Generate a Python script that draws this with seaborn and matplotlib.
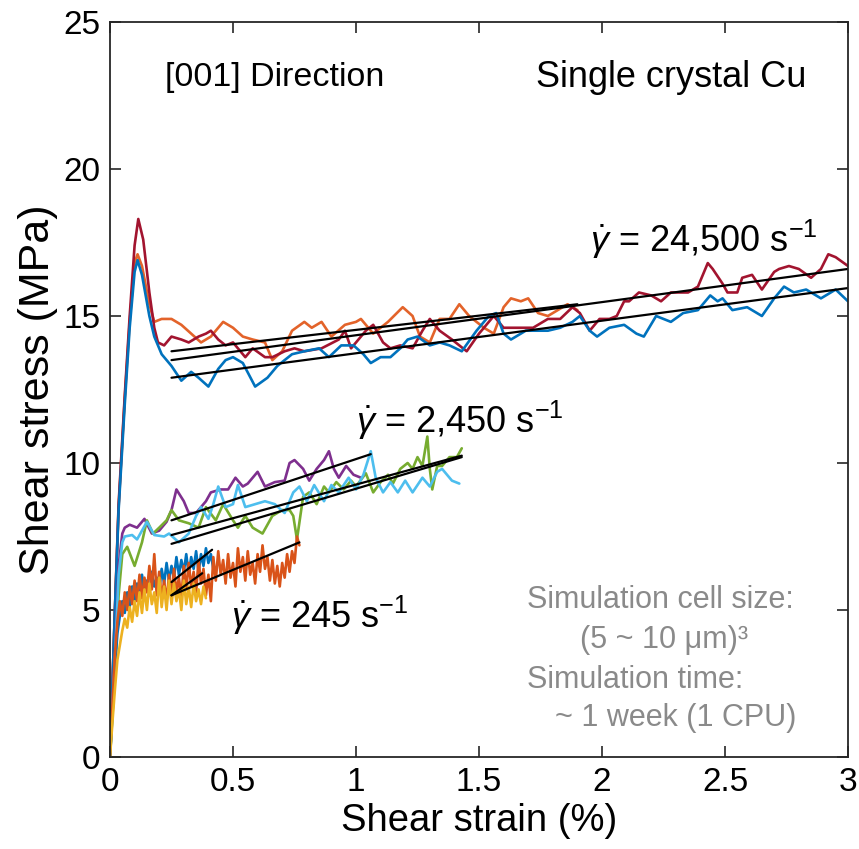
import matplotlib
matplotlib.use("Agg")
import matplotlib.pyplot as plt
from matplotlib import font_manager
import seaborn as sns
import pandas as pd

# ---------------- data ----------------
# 24,500 1/s  (three runs)
r24_x = [0, 0.02, 0.035, 0.06, 0.08, 0.10, 0.115, 0.135, 0.16, 0.18, 0.195, 0.22, 0.25, 0.29, 0.32, 0.36, 0.39, 0.41,
         0.44, 0.47, 0.50, 0.55, 0.58, 0.63, 0.66, 0.71, 0.75, 0.79, 0.86, 0.93, 0.955, 0.98, 1.01, 1.04, 1.07,
         1.11, 1.14, 1.18, 1.23, 1.27, 1.30, 1.34, 1.39, 1.42, 1.45, 1.50, 1.56, 1.60, 1.65, 1.72, 1.78, 1.83,
         1.88, 1.91, 1.95, 1.99, 2.03, 2.06, 2.09, 2.11, 2.15, 2.20, 2.24, 2.28, 2.35, 2.39, 2.43, 2.45, 2.49,
         2.51, 2.55, 2.57, 2.61, 2.65, 2.70, 2.72, 2.76, 2.80, 2.85, 2.89, 2.92, 2.95, 3.0]
r24_y = [0, 5.0, 8.6, 12.3, 15.0, 17.4, 18.3, 17.6, 15.8, 14.6, 14.1, 14.0, 14.3, 14.2, 14.1, 14.3, 14.4, 14.5,
         14.2, 14.0, 14.1, 13.6, 13.9, 13.6, 13.6, 13.8, 13.9, 13.8, 13.9, 14.2, 14.5, 13.9, 14.2, 14.5, 14.7,
         14.1, 13.9, 14.0, 13.9, 14.5, 14.9, 14.5, 14.2, 14.0, 13.8, 14.4, 15.0, 14.6, 14.6, 14.6, 14.9, 14.9,
         15.3, 15.1, 14.5, 14.9, 14.9, 15.0, 15.5, 15.5, 15.8, 15.7, 15.5, 15.8, 15.8, 16.0, 16.8, 16.6, 16.1,
         15.8, 15.8, 16.3, 16.4, 15.9, 16.5, 16.6, 16.7, 16.6, 16.3, 16.6, 17.1, 17.0, 16.7]

b24_x = [0, 0.02, 0.035, 0.06, 0.08, 0.10, 0.112, 0.13, 0.16, 0.18, 0.21, 0.25, 0.29, 0.33, 0.36, 0.40, 0.44,
         0.47, 0.50, 0.54, 0.59, 0.64, 0.68, 0.74, 0.79, 0.85, 0.89, 0.94, 0.99, 1.03, 1.06, 1.10, 1.14, 1.18,
         1.21, 1.25, 1.30, 1.34, 1.38, 1.43, 1.49, 1.54, 1.57, 1.60, 1.63, 1.69, 1.78, 1.83, 1.88, 1.91, 1.95,
         1.98, 2.03, 2.09, 2.14, 2.17, 2.22, 2.28, 2.33, 2.39, 2.44, 2.47, 2.49, 2.53, 2.59, 2.65, 2.70, 2.74,
         2.78, 2.83, 2.89, 2.95, 3.0]
b24_y = [0, 5.0, 8.4, 12.0, 14.6, 16.5, 16.9, 16.4, 15.0, 14.3, 13.7, 13.3, 12.8, 13.1, 12.9, 12.6, 13.2,
         13.5, 13.6, 13.4, 12.6, 12.9, 13.3, 13.7, 13.8, 13.9, 13.6, 14.0, 14.0, 13.7, 13.4, 13.6, 13.6, 13.9,
         14.2, 14.3, 14.0, 14.1, 14.0, 13.8, 14.5, 15.0, 15.1, 14.4, 14.2, 14.5, 14.5, 14.6, 14.8, 15.0, 14.5,
         14.3, 14.6, 14.7, 14.4, 14.3, 15.0, 14.8, 15.1, 15.2, 15.7, 15.5, 15.6, 15.2, 15.3, 15.0, 15.6, 16.0,
         15.8, 15.9, 15.6, 15.9, 15.5]

o24_x = [0, 0.02, 0.035, 0.06, 0.08, 0.10, 0.112, 0.13, 0.16, 0.18, 0.21, 0.25, 0.29, 0.33, 0.37, 0.41, 0.46,
         0.50, 0.54, 0.58, 0.63, 0.66, 0.70, 0.74, 0.79, 0.82, 0.86, 0.90, 0.955, 1.0, 1.02, 1.07, 1.13, 1.19,
         1.23, 1.26, 1.30, 1.34, 1.38, 1.42, 1.46, 1.52, 1.56, 1.60, 1.63, 1.67, 1.70, 1.74, 1.78, 1.82, 1.86,
         1.90]
o24_y = [0, 5.0, 8.5, 12.2, 14.8, 16.8, 17.1, 16.7, 15.4, 14.8, 14.9, 14.9, 14.7, 14.4, 14.1, 14.3, 14.8,
         14.6, 14.3, 14.2, 14.1, 13.5, 13.8, 14.5, 14.8, 14.6, 14.8, 14.3, 14.7, 14.8, 14.9, 14.4, 14.8, 15.3,
         15.0, 14.3, 14.1, 14.9, 14.9, 15.4, 15.0, 14.6, 14.4, 15.3, 15.6, 15.5, 15.6, 15.1, 15.0, 15.2, 15.4,
         15.2]

# 2,450 1/s
p2_x = [0, 0.02, 0.035, 0.05, 0.06, 0.08, 0.11, 0.14, 0.17, 0.20, 0.23, 0.25, 0.27, 0.30, 0.32, 0.35, 0.39,
        0.41, 0.45, 0.48, 0.51, 0.54, 0.56, 0.60, 0.63, 0.67, 0.71, 0.73, 0.75, 0.785, 0.81, 0.84, 0.87, 0.89,
        0.91, 0.93, 0.96, 0.99, 1.02]
p2_y = [0, 3.5, 6.5, 7.6, 7.8, 7.9, 7.8, 8.1, 7.6, 7.7, 8.0, 8.4, 9.1, 8.7, 8.3, 8.3, 8.7,
        9.0, 9.1, 9.1, 9.5, 9.2, 9.3, 9.7, 9.2, 9.35, 9.4, 10.0, 10.1, 9.8, 9.4, 9.8, 10.1, 10.4,
        9.8, 9.5, 9.9, 9.6, 9.5]

c2_x = [0, 0.02, 0.035, 0.05, 0.06, 0.09, 0.11, 0.13, 0.15, 0.18, 0.22, 0.24, 0.28, 0.32, 0.35, 0.37, 0.40,
        0.42, 0.44, 0.47, 0.50, 0.52, 0.55, 0.59, 0.63, 0.67, 0.71, 0.745, 0.77, 0.80, 0.83, 0.87, 0.90, 0.93,
        0.97, 1.0, 1.03, 1.06, 1.08, 1.11, 1.14, 1.17, 1.20, 1.23, 1.27, 1.30, 1.33, 1.35, 1.37, 1.39, 1.42]
c2_y = [0, 3.3, 6.2, 7.3, 7.5, 7.55, 7.4, 7.7, 8.0, 7.55, 7.5, 7.6, 7.3, 7.6, 8.2, 8.5, 8.1,
        8.6, 9.2, 8.5, 8.6, 9.25, 8.5, 8.6, 8.7, 8.6, 8.3, 9.0, 9.2, 8.7, 9.25, 8.7, 9.25, 9.0,
        9.5, 9.1, 9.6, 10.4, 9.5, 9.0, 9.35, 9.0, 9.4, 9.0, 9.5, 9.2, 9.7, 9.8, 9.6, 9.4, 9.3]

g2_x = [0, 0.02, 0.035, 0.05, 0.07, 0.10, 0.13, 0.15, 0.175, 0.20, 0.23, 0.25, 0.28, 0.32, 0.36, 0.39, 0.43,
        0.46, 0.50, 0.52, 0.55, 0.58, 0.62, 0.66, 0.70, 0.73, 0.745, 0.76, 0.785, 0.81, 0.84, 0.87, 0.89, 0.92,
        0.95, 0.98, 1.0, 1.04, 1.07, 1.10, 1.13, 1.15, 1.18, 1.21, 1.23, 1.25, 1.27, 1.29, 1.30, 1.31, 1.33,
        1.35, 1.38, 1.41, 1.43]
g2_y = [0, 2.8, 5.5, 6.9, 7.15, 6.5, 7.3, 8.05, 7.6, 7.8, 8.05, 8.4, 8.05, 7.95, 7.8, 8.5, 8.05,
        8.6, 8.05, 7.8, 8.2, 7.8, 7.6, 8.2, 8.4, 8.4, 8.2, 7.4, 8.85, 9.0, 8.6, 9.2, 9.0, 9.35,
        9.1, 9.4, 9.2, 9.65, 9.0, 9.35, 9.6, 9.3, 9.8, 10.0, 9.8, 10.2, 9.9, 10.9, 9.8, 9.1, 9.9,
        9.9, 10.2, 10.2, 10.5]

# 245 1/s
b2_x = [0.00, 0.01, 0.02, 0.03, 0.04, 0.05, 0.06, 0.07, 0.08, 0.09, 0.10, 0.11, 0.12, 0.13, 0.14, 0.15, 0.16,
        0.17, 0.18, 0.19, 0.20, 0.21, 0.22, 0.23, 0.24, 0.25, 0.26, 0.27, 0.28, 0.29, 0.30, 0.31, 0.32, 0.33,
        0.34, 0.35, 0.36, 0.37, 0.38, 0.39, 0.40, 0.41, 0.42]
b2_y = [0, 1.5, 3.0, 4.2, 4.8, 5.3, 4.9, 5.6, 5.1, 5.8, 5.3, 5.9, 5.4, 6.2, 5.6, 6.0, 5.5,
        6.3, 5.8, 6.1, 5.7, 6.4, 5.9, 6.6, 6.0, 6.5, 6.1, 6.8, 6.2, 6.7, 6.3, 6.9, 6.2, 6.8,
        6.4, 7.0, 6.3, 6.9, 6.5, 7.1, 6.6, 6.9, 6.4]

o2_x = [0.00, 0.01, 0.02, 0.03, 0.04, 0.05, 0.06, 0.07, 0.08, 0.09, 0.10, 0.11, 0.12, 0.13, 0.14, 0.15, 0.16,
        0.17, 0.18, 0.19, 0.20, 0.21, 0.22, 0.23, 0.24, 0.25, 0.26, 0.27, 0.28, 0.29, 0.30, 0.31, 0.32, 0.33,
        0.34, 0.35, 0.36, 0.37, 0.38, 0.39, 0.40, 0.41, 0.42, 0.43, 0.44, 0.45, 0.46, 0.47, 0.48, 0.49, 0.50,
        0.51, 0.52, 0.53, 0.54, 0.55, 0.56, 0.57, 0.58, 0.59, 0.60, 0.61, 0.62, 0.63, 0.64, 0.65, 0.66, 0.67,
        0.68, 0.69, 0.70, 0.71, 0.72, 0.73, 0.74, 0.75, 0.76, 0.77]
o2_y = [0, 1.8, 3.5, 4.6, 5.3, 4.8, 5.6, 5.0, 5.8, 5.2, 6.0, 5.3, 6.2, 5.4, 6.1, 5.6, 6.5,
        5.7, 6.9, 5.5, 6.3, 5.4, 6.0, 5.3, 6.2, 5.5, 6.4, 5.6, 6.1, 5.4, 6.5, 5.7, 6.6, 5.8,
        6.3, 5.6, 6.7, 5.9, 6.4, 5.5, 6.2, 5.3, 6.8, 6.0, 7.0, 6.2, 6.7, 5.9, 6.9, 6.1, 6.6,
        5.8, 7.1, 6.3, 6.8, 6.0, 7.0, 6.2, 6.6, 5.9, 6.9, 6.3, 7.2, 6.4, 6.8, 6.0, 6.7, 5.9,
        6.5, 5.8, 6.6, 6.1, 6.9, 6.3, 7.0, 6.6, 7.5, 7.2]

y2_x = [0.00, 0.01, 0.02, 0.03, 0.04, 0.05, 0.06, 0.07, 0.08, 0.09, 0.10, 0.11, 0.12, 0.13, 0.14, 0.15, 0.16,
        0.17, 0.18, 0.19, 0.20, 0.21, 0.22, 0.23, 0.24, 0.25, 0.26, 0.27, 0.28, 0.29, 0.30, 0.31, 0.32, 0.33,
        0.34, 0.35, 0.36, 0.37, 0.38, 0.39]
y2_y = [0, 1.2, 2.3, 3.3, 3.8, 4.3, 4.7, 4.4, 5.1, 4.6, 5.3, 4.8, 5.6, 4.9, 5.7, 5.0, 5.9,
        5.2, 5.6, 4.9, 6.1, 5.1, 5.8, 5.0, 6.0, 5.2, 5.9, 5.3, 5.7, 5.0, 6.0, 5.2, 5.8, 5.1,
        5.9, 5.3, 5.7, 5.2, 5.8, 5.4]

# linear fits (start / end points)
fit_x = [[0.25, 1.90], [0.25, 3.0], [0.25, 3.0],
         [0.25, 1.06], [0.25, 1.43], [0.25, 1.43],
         [0.25, 0.415], [0.25, 0.375], [0.25, 0.77]]
fit_y = [[13.8, 15.4], [13.5, 16.6], [12.9, 15.95],
         [8.05, 10.3], [7.55, 10.25], [7.25, 10.2],
         [5.95, 7.05], [5.5, 6.25], [5.5, 7.3]]

x_ticks = [0, 0.5, 1, 1.5, 2, 2.5, 3]
x_tick_labels = ["0", "0.5", "1", "1.5", "2", "2.5", "3"]
y_ticks = [0, 5, 10, 15, 20, 25]
y_tick_labels = ["0", "5", "10", "15", "20", "25"]

# ---------------- style ----------------
sns.set_theme(style="ticks")
names = {f.name for f in font_manager.fontManager.ttflist}
base = "Liberation Sans"
narrow = "Liberation Sans Narrow" if "Liberation Sans Narrow" in names else None
plt.rcParams["font.family"] = [base, "DejaVu Sans"]
plt.rcParams["text.color"] = "black"
plt.rcParams["axes.labelcolor"] = "black"
plt.rcParams["mathtext.fontset"] = "custom"
plt.rcParams["mathtext.rm"] = base
plt.rcParams["mathtext.it"] = base + ":italic"
plt.rcParams["mathtext.default"] = "it"

if narrow:
    lab_font, lab_xs, lab_ys, dir_font, dir_fs = narrow, 33, 37, narrow, 30
else:
    lab_font, lab_xs, lab_ys, dir_font, dir_fs = base, 27.5, 31, base, 24.5

AX_COL = "#262626"
fig = plt.figure(figsize=(8.59, 8.49), dpi=100)
ax = fig.add_axes([110 / 859, 92 / 849, 738 / 859, 735 / 849])

series = [
    (o24_x, o24_y, "#E3632A"), (r24_x, r24_y, "#A2142F"), (b24_x, b24_y, "#0072BD"),
    (p2_x, p2_y, "#7E2F8E"), (g2_x, g2_y, "#77AC30"), (c2_x, c2_y, "#4DBEEE"),
    (b2_x, b2_y, "#0072BD"), (o2_x, o2_y, "#D95319"), (y2_x, y2_y, "#EDB120"),
]
for xs, ys, col in series:
    df = pd.DataFrame({"x": xs, "y": ys})
    sns.lineplot(data=df, x="x", y="y", color=col, lw=1.9, sort=False, estimator=None,
                 ax=ax, legend=False)

for fx, fy in zip(fit_x, fit_y):
    df = pd.DataFrame({"x": fx, "y": fy})
    sns.lineplot(data=df, x="x", y="y", color="black", lw=1.6, sort=False, estimator=None,
                 ax=ax, legend=False)

ax.set_xlim(0, 3)
ax.set_ylim(0, 25)
ax.set_xticks(x_ticks)
ax.set_xticklabels(x_tick_labels)
ax.set_yticks(y_ticks)
ax.set_yticklabels(y_tick_labels)
ax.tick_params(direction="in", top=True, right=True, length=8, width=1.2, color=AX_COL,
               labelsize=24, labelcolor="black", pad=7)
for t in ax.get_xticklabels() + ax.get_yticklabels():
    t.set_family([base])
for s in ax.spines.values():
    s.set_visible(True)
    s.set_color(AX_COL)
    s.set_linewidth(1.3)

ax.set_xlabel("Shear strain (%)", fontsize=lab_xs, family=[lab_font], labelpad=4, color="black")
ax.set_ylabel("Shear stress (MPa)", fontsize=lab_ys, family=[lab_font], labelpad=4, color="black")

ax.text(0.224, 23.1, "[001] Direction", fontsize=dir_fs, family=[dir_font], ha="left", va="center",
        color="black")
ax.text(2.83, 23.1, "Single crystal Cu", fontsize=26, ha="right", va="center", color="black")

ax.text(1.95, 17.6, r"$\dot{\gamma}$ = 24,500 s$^{\mathrm{-1}}$", fontsize=26, ha="left", va="center",
        color="black")
ax.text(1.00, 11.45, r"$\dot{\gamma}$ = 2,450 s$^{\mathrm{-1}}$", fontsize=26, ha="left", va="center",
        color="black")
ax.text(0.49, 4.83, r"$\dot{\gamma}$ = 245 s$^{\mathrm{-1}}$", fontsize=26, ha="left", va="center",
        color="black")

GRAY = "#8a8a8a"
ax.text(1.695, 5.34, "Simulation cell size:", fontsize=22, color=GRAY, ha="left", va="center")
ax.text(1.91, 3.98, "(5 ~ 10 \u03bcm)\u00b3", fontsize=22, color=GRAY, ha="left", va="center")
ax.text(1.695, 2.62, "Simulation time:", fontsize=22, color=GRAY, ha="left", va="center")
ax.text(1.81, 1.33, "~ 1 week (1 CPU)", fontsize=22, color=GRAY, ha="left", va="center")

fig.savefig("out.png", dpi=100, facecolor="white")
